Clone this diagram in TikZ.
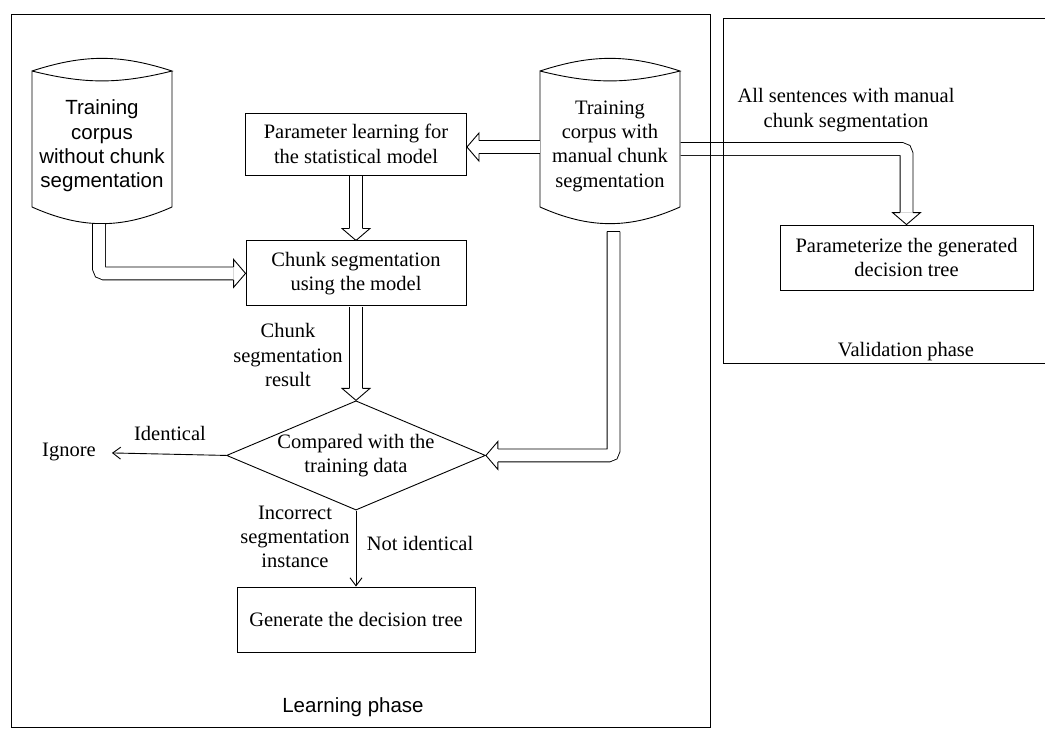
\documentclass[tikz,border=0pt]{standalone}
\usepackage{fontspec}
\setmainfont{Liberation Serif}
\newfontfamily\arialfont{Liberation Sans}
\usetikzlibrary{arrows.meta,positioning,calc,shapes.geometric}
\newcommand{\diagsize}{\fontsize{20.5}{24.3}\selectfont}
\tikzset{
  procbox/.style={draw=black, line width=0.9pt, align=center, inner sep=2pt},
  decidebox/.style={diamond, draw=black, line width=0.9pt, align=center, inner sep=0pt, aspect=2.37, minimum width=256pt, minimum height=108pt},
  dbtext/.style={align=center, inner sep=0pt},
  dbline/.style={line width=0.9pt},
  fatline/.style={double=white, double distance=12pt, line width=0.9pt, shorten <=0.5pt},
  thinline/.style={-{Straight Barb[length=8pt,width=12pt]}, line width=0.9pt},
  lbl/.style={align=center, inner sep=1pt},
  phaseframe/.style={line width=0.9pt},
  fathead/.pic={\filldraw[fill=white, line width=0.9pt] (-12,-6.45) -- (-12,-14) -- (0,0) -- (-12,14) -- (-12,6.45);}
}
\newcommand{\dbshape}[1]{%
  \draw[dbline] ($(#1.center)+(-70,75)$) to[bend left=18] ($(#1.center)+(70,75)$)
    to[bend left=14] ($(#1.center)+(-70,75)$) -- ($(#1.center)+(-70,-61)$)
    to[bend right=24] coordinate[pos=0.5] (#1-bot) ($(#1.center)+(70,-61)$)
    -- ($(#1.center)+(70,75)$);}

\begin{document}
\begin{tikzpicture}[x=1pt, y=1pt, font=\diagsize]
  \useasboundingbox (0,0) rectangle (1045,-729);

  % corpora
  \node[dbtext, font=\arialfont\diagsize] (cylA) at (102,-146) {Training\\corpus\\without chunk\\segmentation};
  \node[dbtext] (cylB) at (610,-146) {Training\\corpus with\\manual chunk\\segmentation};
  \dbshape{cylA}
  \dbshape{cylB}

  % learning chain
  \node[procbox, minimum width=221pt, minimum height=62pt] (parbox) at (356,-144) {Parameter learning for\\the statistical model};
  \node[procbox, below=65pt of parbox, minimum width=220pt, minimum height=65pt] (segbox) {Chunk segmentation\\using the model};
  \node[decidebox, below=94pt of segbox] (cmpdiam) {Compared with the\\training data};
  \node[procbox, below=76pt of cmpdiam, minimum width=238pt, minimum height=65pt] (gentree) {Generate the decision tree};
  \node[procbox, minimum width=253pt, minimum height=65pt] (parambox) at (906.5,-257.5) {Parameterize the generated\\decision tree};

  \node[lbl, inner xsep=16pt] (ignore) at (69,-452) {Ignore};
  \node[lbl] (identlbl) at (170,-433) {Identical};
  \node[lbl] (chunkres) at (288,-355) {Chunk\\segmentation\\result};
  \node[lbl] (incorr) at (295,-537) {Incorrect\\segmentation\\instance};
  \node[lbl] (notid) at (420,-543) {Not identical};
  \node[lbl] (allsent) at (846,-110) {All sentences with manual\\chunk segmentation};
  \node[lbl] (validlbl) at (906,-352) {Validation phase};
  \node[lbl, font=\arialfont\diagsize] (learnlbl) at (353,-707) {Learning phase};

  \draw[thinline] (cmpdiam.west) -- (ignore);
  \draw[thinline] (cmpdiam.south) -- (gentree.north);

  % hollow arrows
  \draw[fatline, rounded corners=5pt] ($(cylA-bot)+(-3,0)$) |- ($(segbox.west)+(-12,0)$);
  \pic at (segbox.west) {fathead};
  \draw[fatline] (parbox.south) -- ($(segbox.north)+(0,12)$);
  \pic[rotate=-90] at (segbox.north) {fathead};
  \draw[fatline] (segbox.south) -- ($(cmpdiam.north)+(0,12)$);
  \pic[rotate=-90] at (cmpdiam.north) {fathead};

  \coordinate (cylB-w) at ($(cylB.center)+(-70,-1)$);
  \draw[fatline] (cylB-w) -- ($(parbox.east)+(12,-3)$);
  \pic[rotate=180] at ($(parbox.east)+(0,-3)$) {fathead};

  \coordinate (cylB-e) at ($(cylB.center)+(70,-3)$);
  \draw[fatline, rounded corners=5pt] (cylB-e) -| ($(parambox.north)+(0,12)$);
  \pic[rotate=-90] at (parambox.north) {fathead};

  \coordinate (cylB-s) at ($(cylB-bot)+(3.5,-8)$);
  \draw[fatline, shorten <=0pt, rounded corners=5pt] (cylB-s) |- ($(cmpdiam.east)+(12,0)$);
  \draw[dbline] ($(cylB-s)+(-6.9,0)$) -- ($(cylB-s)+(6.9,0)$);
  \pic[rotate=180] at (cmpdiam.east) {fathead};

  % phases
  \draw[phaseframe] (11,-14) rectangle (710,-727);
  \draw[phaseframe] (1045,-18) -| (723,-363) -- (1045,-363);
\end{tikzpicture}
\end{document}
